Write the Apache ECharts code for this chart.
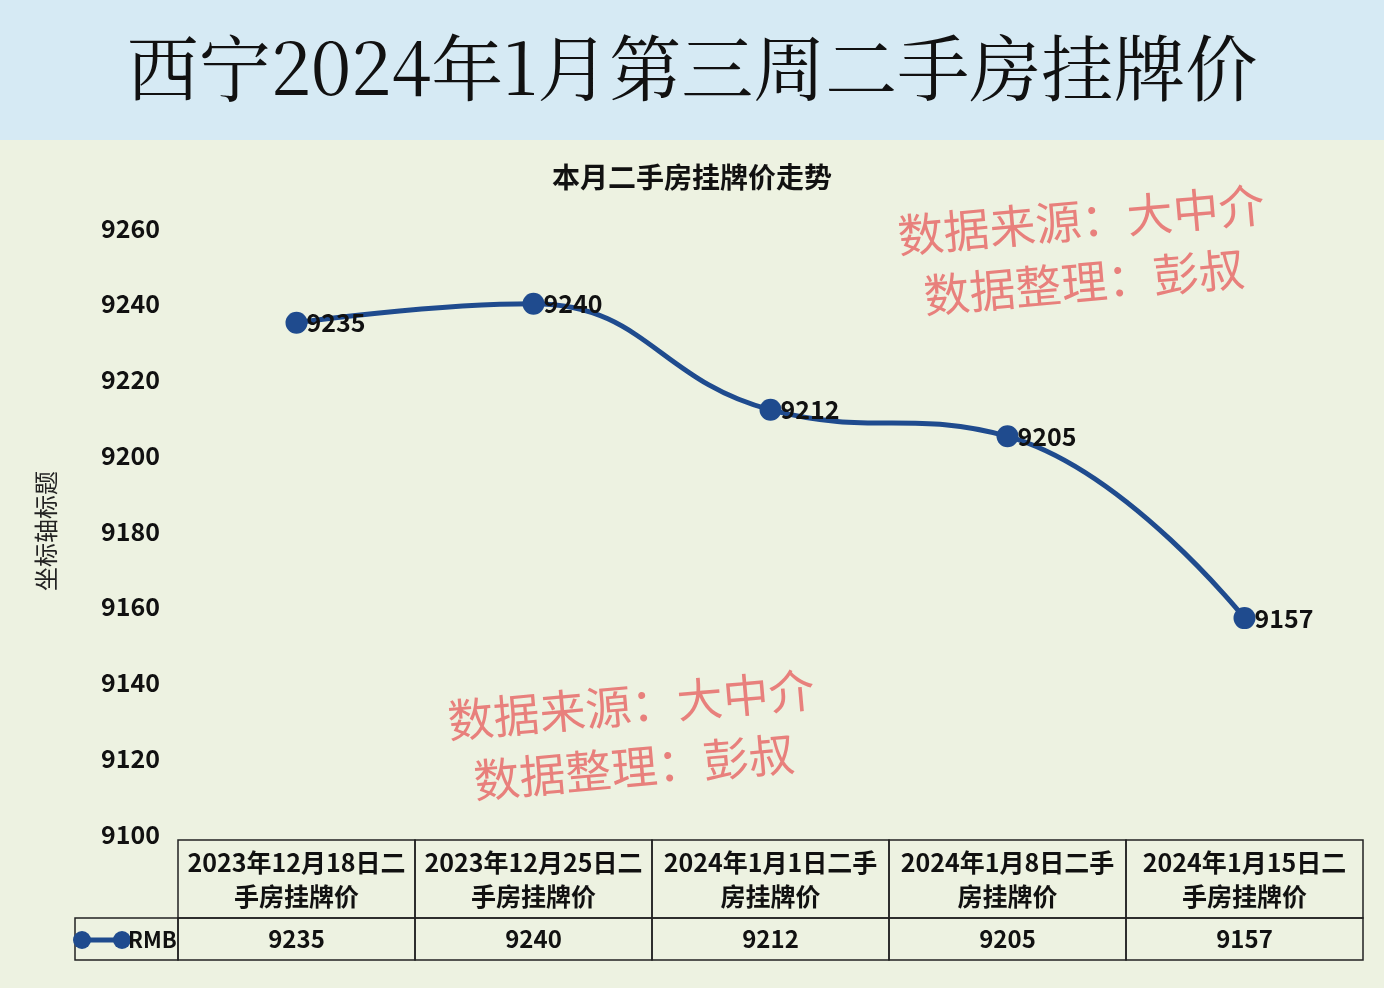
<!DOCTYPE html>
<html>
<head>
<meta charset="utf-8">
<style>
html,body{margin:0;padding:0;background:#edf2e1;}
#chart{width:1384px;height:988px;}
</style>
<script src="https://cdn.jsdelivr.net/npm/echarts@6/dist/echarts.min.js"></script>
</head>
<body>
<div id="chart"></div>
<script>
var categories = ['2023年12月18日二\n手房挂牌价', '2023年12月25日二\n手房挂牌价', '2024年1月1日二手\n房挂牌价', '2024年1月8日二手\n房挂牌价', '2024年1月15日二\n手房挂牌价'];
var prices = [9235, 9240, 9212, 9205, 9157];
var seriesName = 'RMB';

var font = '"Noto Sans CJK SC", sans-serif';
var lineColor = '#1f4b8e';
var chart = echarts.init(document.getElementById('chart'));

var option = {
    backgroundColor: '#edf2e1',
    animation: false,
    title: [
        {text: '本月二手房挂牌价走势', left: 'center', top: 158,
         textStyle: {fontFamily: font, fontSize: 28, fontWeight: 'bold', color: '#111'}}
    ],
    grid: {left: 178, right: 21, top: 228, bottom: 154},
    xAxis: {
        type: 'category', data: categories, boundaryGap: true,
        axisLine: {show: false}, axisTick: {show: false}, axisLabel: {show: false}
    },
    yAxis: {
        type: 'value', min: 9100, max: 9260, interval: 20,
        name: '坐标轴标题', nameLocation: 'middle', nameGap: 120, nameRotate: 90,
        nameTextStyle: {fontFamily: font, fontSize: 24, color: '#222'},
        axisLine: {show: false}, axisTick: {show: false}, splitLine: {show: false},
        axisLabel: {fontFamily: font, fontSize: 25, fontWeight: 'bold', color: '#111', margin: 18,
                    formatter: function (v) { return String(v); }}
    },
    series: [{
        name: seriesName, type: 'line', data: prices, smooth: 0.45,
        symbol: 'circle', symbolSize: 22,
        lineStyle: {color: lineColor, width: 5},
        itemStyle: {color: lineColor},
        label: {show: true, position: 'right', offset: [-6, 0], fontFamily: font, fontSize: 25,
                fontWeight: 'bold', color: '#111'}
    }]
};
chart.setOption(option);

// title band, watermarks, data table
var g = [
    {type: 'rect', shape: {x: 0, y: 0, width: 1384, height: 140}, style: {fill: '#d6eaf4'}},
    {type: 'text', left: 'center', top: 32, style: {text: '西宁2024年1月第三周二手房挂牌价',
        font: '72px "Noto Serif CJK SC", "Noto Sans CJK SC", serif', fill: '#111'}}
];
function mark(x, y) {
    g.push({type: 'text', x: x, y: y, rotation: 5 * Math.PI / 180,
        style: {text: '数据来源：大中介\n  数据整理：彭叔', font: '46px "Noto Sans CJK SC"',
                lineHeight: 62, fill: 'rgba(230,90,90,0.75)'}});
}
mark(895, 205);
mark(445, 690);

var y0 = 840, y1 = 918, y2 = 960;
var half = (chart.convertToPixel({xAxisIndex: 0}, 1) - chart.convertToPixel({xAxisIndex: 0}, 0)) / 2;
var bs = {fill: 'none', stroke: '#222', lineWidth: 1.5};
categories.forEach(function (c, i) {
    var cx = chart.convertToPixel({xAxisIndex: 0}, i);
    g.push({type: 'rect', shape: {x: cx - half, y: y0, width: half * 2, height: y1 - y0}, style: bs});
    g.push({type: 'rect', shape: {x: cx - half, y: y1, width: half * 2, height: y2 - y1}, style: bs});
    g.push({type: 'text', x: cx, y: (y0 + y1) / 2, style: {text: c, align: 'center', verticalAlign: 'middle',
        font: 'bold 25px "Noto Sans CJK SC"', lineHeight: 34, fill: '#111'}});
    g.push({type: 'text', x: cx, y: (y1 + y2) / 2, style: {text: String(prices[i]), align: 'center',
        verticalAlign: 'middle', font: 'bold 24px "Noto Sans CJK SC"', fill: '#111'}});
});
var lx = chart.convertToPixel({xAxisIndex: 0}, 0) - half;
g.push({type: 'rect', shape: {x: 75, y: y1, width: lx - 75, height: y2 - y1}, style: bs});
g.push({type: 'line', shape: {x1: 82, y1: 940, x2: 122, y2: 940}, style: {stroke: lineColor, lineWidth: 5}});
g.push({type: 'circle', shape: {cx: 82, cy: 940, r: 9}, style: {fill: lineColor}});
g.push({type: 'circle', shape: {cx: 122, cy: 940, r: 9}, style: {fill: lineColor}});
g.push({type: 'text', x: 128, y: 940, style: {text: seriesName, verticalAlign: 'middle',
    font: 'bold 22px "Noto Sans CJK SC"', fill: '#111'}});
chart.setOption({graphic: g});
</script>
</body>
</html>
